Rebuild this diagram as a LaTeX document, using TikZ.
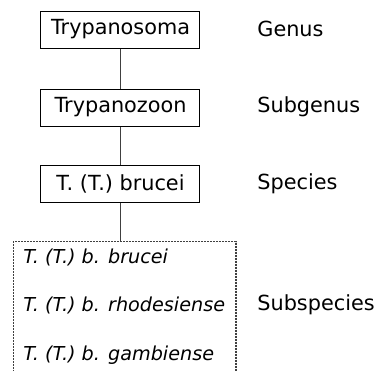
\documentclass[tikz,border=0pt]{standalone}
\usepackage{fontspec}
\setmainfont{DejaVu Sans}
\usetikzlibrary{positioning}

\tikzset{
  taxon/.style={draw,line width=.5pt,minimum width=79.5pt,minimum height=18.5pt,inner sep=0pt},
  rank/.style={anchor=west,inner sep=0pt},
  subsp/.style={anchor=west,inner sep=0pt,font=\fontsize{9.6}{11}\selectfont\itshape},
  link/.style={draw=black!75,line width=.9pt}
}

\begin{document}
\begin{tikzpicture}[x=.5pt,y=-.5pt,font=\fontsize{10.4}{12}\selectfont]
  \useasboundingbox (0,0) rectangle (377,371);

  % taxa
  \node[taxon] (genus) at (120.5,29.5) {Trypanosoma};
  \node[taxon] (subgenus) at (120.5,107.5) {Trypanozoon};
  \node[taxon] (species) at (120.5,183.5) {T. (T.) brucei};

  % subspecies
  \node[subsp] (bb) at (23,257) {T. (T.) b. brucei};
  \node[subsp] (br) at (23,305) {T. (T.) b. rhodesiense};
  \node[subsp] (bg) at (23,355) {T. (T.) b. gambiense};
  \draw[black!75,dash pattern=on 1pt off .5pt,line width=.8pt] (13.5,372) -- (13.5,241.5) -- (236,241.5) -- (236,372);
  \coordinate (subtop) at (120.5,241.5);

  % ranks
  \node[rank] (lgenus) at (257,29) {Genus};
  \node[rank] (lsubgenus) at (257,107) {Subgenus};
  \node[rank] (lspecies) at (257,184) {Species};
  \node[rank] (lsubsp) at (257,305) {Subspecies};

  \path[link] (genus.south) -- (subgenus.north);
  \path[link] (subgenus.south) -- (species.north);
  \path[link] (species.south) -- (subtop);
\end{tikzpicture}
\end{document}
